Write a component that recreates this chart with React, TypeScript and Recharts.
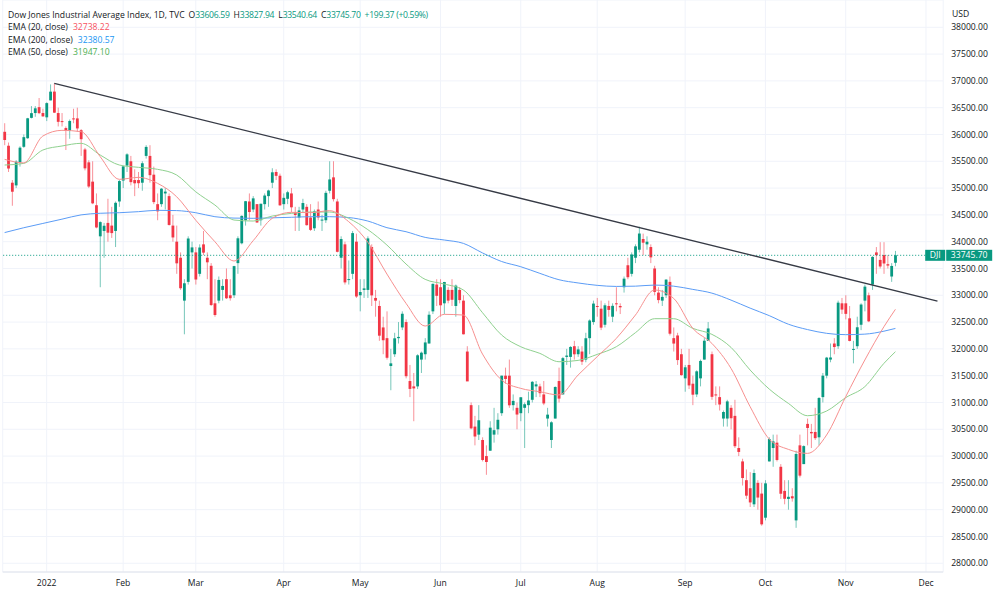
import React from 'react';
import { Bar, CartesianGrid, ComposedChart, Line, ReferenceLine, XAxis, YAxis } from 'recharts';

// date, open, high, low, close
type Candle = [string, number, number, number, number];

const dec2021: Candle[] = [
  ['2021-12-16', 36050, 36210, 35800, 35897],
  ['2021-12-17', 35790, 35850, 35300, 35365],
  ['2021-12-20', 35100, 35150, 34670, 34932],
  ['2021-12-21', 35050, 35520, 35000, 35493],
  ['2021-12-22', 35480, 35780, 35400, 35754],
  ['2021-12-23', 35770, 36000, 35750, 35950],
  ['2021-12-27', 35930, 36310, 35920, 36302],
  ['2021-12-28', 36310, 36530, 36300, 36398],
  ['2021-12-29', 36400, 36530, 36330, 36488],
  ['2021-12-30', 36510, 36680, 36380, 36398],
  ['2021-12-31', 36400, 36480, 36330, 36338],
];

const jan2022: Candle[] = [
  ['2022-01-03', 36320, 36600, 36250, 36585],
  ['2022-01-04', 36636, 36934, 36636, 36799],
  ['2022-01-05', 36800, 36952, 36400, 36407],
  ['2022-01-06', 36400, 36500, 36150, 36236],
  ['2022-01-07', 36250, 36400, 36150, 36231],
  ['2022-01-10', 36120, 36150, 35710, 36068],
  ['2022-01-11', 36070, 36280, 35920, 36252],
  ['2022-01-12', 36300, 36480, 36210, 36290],
  ['2022-01-13', 36300, 36500, 36050, 36113],
  ['2022-01-14', 36080, 36100, 35600, 35912],
  ['2022-01-18', 35720, 35750, 35330, 35368],
  ['2022-01-19', 35480, 35520, 35000, 35029],
  ['2022-01-20', 35120, 35500, 34700, 34715],
  ['2022-01-21', 34680, 34900, 34250, 34265],
  ['2022-01-24', 34100, 34380, 33150, 34365],
  ['2022-01-25', 34200, 34350, 33700, 34297],
  ['2022-01-26', 34350, 34800, 34000, 34168],
  ['2022-01-27', 34300, 34650, 34070, 34160],
  ['2022-01-28', 34200, 34750, 33900, 34725],
  ['2022-01-31', 34750, 35150, 34650, 35131],
];

const feb2022: Candle[] = [
  ['2022-02-01', 35140, 35410, 35000, 35405],
  ['2022-02-02', 35420, 35650, 35300, 35629],
  ['2022-02-03', 35500, 35600, 35050, 35111],
  ['2022-02-04', 35150, 35350, 34850, 35089],
  ['2022-02-07', 35150, 35300, 35000, 35091],
  ['2022-02-08', 35100, 35500, 34950, 35463],
  ['2022-02-09', 35600, 35800, 35550, 35768],
  ['2022-02-10', 35600, 35800, 35100, 35241],
  ['2022-02-11', 35250, 35400, 34700, 34738],
  ['2022-02-14', 34700, 34900, 34400, 34566],
  ['2022-02-15', 34700, 35000, 34650, 34989],
  ['2022-02-16', 34900, 35000, 34600, 34934],
  ['2022-02-17', 34850, 34900, 34300, 34312],
  ['2022-02-18', 34300, 34500, 34000, 34079],
  ['2022-02-22', 34000, 34300, 33400, 33596],
  ['2022-02-23', 33700, 33800, 33100, 33131],
  ['2022-02-24', 32900, 33300, 32272, 33224],
  ['2022-02-25', 33250, 34100, 33200, 34059],
  ['2022-02-28', 33800, 34000, 33500, 33893],
];

const mar2022: Candle[] = [
  ['2022-03-01', 33800, 33900, 33200, 33294],
  ['2022-03-02', 33400, 33950, 33350, 33891],
  ['2022-03-03', 33950, 34200, 33750, 33795],
  ['2022-03-04', 33700, 33800, 33300, 33615],
  ['2022-03-07', 33550, 33600, 32800, 32818],
  ['2022-03-08', 32850, 33300, 32600, 32632],
  ['2022-03-09', 32900, 33350, 32850, 33286],
  ['2022-03-10', 33100, 33300, 32900, 33174],
  ['2022-03-11', 33300, 33500, 32930, 32944],
  ['2022-03-14', 33000, 33300, 32900, 32945],
  ['2022-03-15', 33000, 33550, 32950, 33544],
  ['2022-03-16', 33600, 34100, 33400, 34063],
  ['2022-03-17', 33970, 34490, 33950, 34481],
  ['2022-03-18', 34400, 34760, 34300, 34755],
  ['2022-03-21', 34750, 34900, 34400, 34553],
  ['2022-03-22', 34600, 34850, 34550, 34808],
  ['2022-03-23', 34700, 34700, 34350, 34358],
  ['2022-03-24', 34400, 34710, 34300, 34707],
  ['2022-03-25', 34700, 34900, 34600, 34861],
  ['2022-03-28', 34850, 34970, 34650, 34955],
  ['2022-03-29', 35100, 35370, 35000, 35294],
  ['2022-03-30', 35300, 35350, 35150, 35228],
  ['2022-03-31', 35230, 35270, 34670, 34678],
];

const apr2022: Candle[] = [
  ['2022-04-01', 34700, 34900, 34600, 34818],
  ['2022-04-04', 34800, 34950, 34700, 34922],
  ['2022-04-05', 34900, 35000, 34550, 34641],
  ['2022-04-06', 34550, 34650, 34200, 34497],
  ['2022-04-07', 34450, 34650, 34200, 34583],
  ['2022-04-08', 34600, 34800, 34550, 34721],
  ['2022-04-11', 34650, 34700, 34300, 34308],
  ['2022-04-12', 34450, 34700, 34200, 34220],
  ['2022-04-13', 34250, 34600, 34200, 34565],
  ['2022-04-14', 34600, 34750, 34400, 34451],
  ['2022-04-18', 34400, 34500, 34200, 34412],
  ['2022-04-19', 34400, 34950, 34350, 34911],
  ['2022-04-20', 34950, 35500, 34900, 35161],
  ['2022-04-21', 35200, 35500, 34750, 34793],
  ['2022-04-22', 34750, 34800, 33800, 33811],
  ['2022-04-25', 33700, 34100, 33500, 34049],
  ['2022-04-26', 33950, 34000, 33200, 33240],
  ['2022-04-27', 33300, 33650, 33200, 33302],
  ['2022-04-28', 33400, 34200, 33300, 34160],
  ['2022-04-29', 34000, 34150, 32950, 32977],
];

const may2022: Candle[] = [
  ['2022-05-02', 33000, 33300, 32700, 33061],
  ['2022-05-03', 33100, 33300, 32950, 33128],
  ['2022-05-04', 33100, 34100, 32950, 34061],
  ['2022-05-05', 33900, 33950, 32800, 32998],
  ['2022-05-06', 32950, 33100, 32600, 32899],
  ['2022-05-09', 32800, 32900, 32150, 32246],
  ['2022-05-10', 32400, 32600, 31900, 32161],
  ['2022-05-11', 32200, 32700, 31800, 31834],
  ['2022-05-12', 31680, 32000, 31228, 31730],
  ['2022-05-13', 31900, 32300, 31850, 32197],
  ['2022-05-16', 32200, 32500, 32100, 32223],
  ['2022-05-17', 32400, 32700, 32350, 32655],
  ['2022-05-18', 32500, 32550, 31450, 31490],
  ['2022-05-19', 31400, 31700, 31100, 31253],
  ['2022-05-20', 31300, 31550, 30650, 31262],
  ['2022-05-23', 31300, 31900, 31250, 31880],
  ['2022-05-24', 31800, 31950, 31550, 31929],
  ['2022-05-25', 31900, 32200, 31800, 32120],
  ['2022-05-26', 32100, 32700, 32100, 32637],
  ['2022-05-27', 32700, 33220, 32650, 33213],
  ['2022-05-31', 33200, 33300, 32800, 32990],
];

const jun2022: Candle[] = [
  ['2022-06-01', 33150, 33300, 32600, 32813],
  ['2022-06-02', 32850, 33250, 32650, 33248],
  ['2022-06-03', 33100, 33150, 32850, 32900],
  ['2022-06-06', 33100, 33300, 32800, 32916],
  ['2022-06-07', 32800, 33200, 32600, 33180],
  ['2022-06-08', 33100, 33150, 32850, 32910],
  ['2022-06-09', 32900, 33000, 32270, 32272],
  ['2022-06-10', 31950, 32050, 31400, 31393],
  ['2022-06-13', 30950, 31000, 30500, 30517],
  ['2022-06-14', 30550, 30750, 30200, 30365],
  ['2022-06-15', 30400, 30950, 30300, 30668],
  ['2022-06-16', 30300, 30350, 29900, 29927],
  ['2022-06-17', 30000, 30200, 29650, 29889],
  ['2022-06-21', 30100, 30650, 30100, 30530],
  ['2022-06-22', 30400, 30900, 30250, 30483],
  ['2022-06-23', 30500, 30800, 30400, 30677],
  ['2022-06-24', 30800, 31500, 30750, 31500],
  ['2022-06-27', 31500, 31650, 31350, 31438],
  ['2022-06-28', 31500, 31800, 30900, 30947],
  ['2022-06-29', 30950, 31150, 30850, 31029],
  ['2022-06-30', 30900, 31000, 30500, 30775],
];

const jul2022: Candle[] = [
  ['2022-07-01', 30800, 31100, 30650, 31097],
  ['2022-07-05', 30900, 31000, 30150, 30967],
  ['2022-07-06', 30950, 31200, 30800, 31037],
  ['2022-07-07', 31050, 31400, 31000, 31385],
  ['2022-07-08', 31300, 31400, 31100, 31338],
  ['2022-07-11', 31300, 31350, 31100, 31173],
  ['2022-07-12', 31150, 31400, 30950, 30982],
  ['2022-07-13', 30700, 30900, 30550, 30773],
  ['2022-07-14', 30300, 30650, 30150, 30630],
  ['2022-07-15', 30700, 31300, 30700, 31289],
  ['2022-07-18', 31400, 31650, 31000, 31072],
  ['2022-07-19', 31150, 31850, 31150, 31827],
  ['2022-07-20', 31850, 32000, 31700, 31875],
  ['2022-07-21', 31850, 32050, 31650, 32036],
  ['2022-07-22', 32050, 32150, 31800, 31899],
  ['2022-07-25', 31900, 32050, 31850, 31990],
  ['2022-07-26', 31950, 32050, 31700, 31762],
  ['2022-07-27', 31800, 32300, 31750, 32198],
  ['2022-07-28', 32200, 32550, 31900, 32529],
  ['2022-07-29', 32500, 32900, 32450, 32845],
];

const aug2022: Candle[] = [
  ['2022-08-01', 32800, 32950, 32600, 32798],
  ['2022-08-02', 32750, 32900, 32350, 32396],
  ['2022-08-03', 32450, 32850, 32400, 32813],
  ['2022-08-04', 32800, 32900, 32600, 32727],
  ['2022-08-05', 32600, 32850, 32500, 32803],
  ['2022-08-08', 32850, 33150, 32700, 32833],
  ['2022-08-09', 32800, 32850, 32650, 32775],
  ['2022-08-10', 33150, 33350, 33050, 33310],
  ['2022-08-11', 33560, 33700, 33300, 33337],
  ['2022-08-12', 33400, 33800, 33350, 33761],
  ['2022-08-15', 33700, 33950, 33600, 33913],
  ['2022-08-16', 33850, 34281, 33800, 34152],
  ['2022-08-17', 34050, 34150, 33750, 33981],
  ['2022-08-18', 33950, 34100, 33850, 33999],
  ['2022-08-19', 33900, 33950, 33600, 33707],
  ['2022-08-22', 33500, 33550, 33000, 33064],
  ['2022-08-23', 33050, 33150, 32850, 32910],
  ['2022-08-24', 32900, 33100, 32800, 32970],
  ['2022-08-25', 33000, 33300, 32950, 33292],
  ['2022-08-26', 33250, 33350, 32250, 32283],
  ['2022-08-29', 32200, 32400, 31950, 32099],
  ['2022-08-30', 32250, 32300, 31700, 31791],
  ['2022-08-31', 31900, 32000, 31500, 31510],
];

const sep2022: Candle[] = [
  ['2022-09-01', 31450, 31700, 31200, 31656],
  ['2022-09-02', 31700, 32000, 31250, 31318],
  ['2022-09-06', 31350, 31500, 30950, 31145],
  ['2022-09-07', 31150, 31600, 31100, 31581],
  ['2022-09-08', 31450, 31800, 31300, 31775],
  ['2022-09-09', 31800, 32200, 31800, 32152],
  ['2022-09-12', 32150, 32500, 32150, 32381],
  ['2022-09-13', 31900, 31950, 31050, 31105],
  ['2022-09-14', 31150, 31300, 30950, 31135],
  ['2022-09-15', 31100, 31300, 30850, 30962],
  ['2022-09-16', 30700, 30850, 30550, 30822],
  ['2022-09-19', 30700, 31050, 30550, 31020],
  ['2022-09-20', 30900, 30950, 30500, 30706],
  ['2022-09-21', 30750, 31050, 30150, 30184],
  ['2022-09-22', 30150, 30350, 30000, 30077],
  ['2022-09-23', 29900, 29950, 29450, 29590],
  ['2022-09-26', 29550, 29750, 29200, 29261],
  ['2022-09-27', 29400, 29700, 29050, 29135],
  ['2022-09-28', 29100, 29750, 29050, 29684],
  ['2022-09-29', 29500, 29550, 29000, 29226],
  ['2022-09-30', 29300, 29500, 28700, 28726],
];

const oct2022: Candle[] = [
  ['2022-10-03', 28850, 29550, 28800, 29491],
  ['2022-10-04', 29900, 30350, 29900, 30317],
  ['2022-10-05', 30150, 30400, 29800, 30274],
  ['2022-10-06', 30250, 30400, 29900, 29927],
  ['2022-10-07', 29800, 29850, 29200, 29297],
  ['2022-10-10', 29350, 29550, 29100, 29203],
  ['2022-10-11', 29200, 29550, 29000, 29240],
  ['2022-10-12', 29250, 29400, 29150, 29211],
  ['2022-10-13', 28800, 30100, 28661, 30039],
  ['2022-10-14', 30200, 30400, 29600, 29635],
  ['2022-10-17', 29850, 30200, 29850, 30186],
  ['2022-10-18', 30600, 30700, 30200, 30524],
  ['2022-10-19', 30450, 30600, 30150, 30424],
  ['2022-10-20', 30450, 30900, 30300, 30334],
  ['2022-10-21', 30350, 31100, 30200, 31083],
  ['2022-10-24', 31100, 31550, 31000, 31500],
  ['2022-10-25', 31500, 31850, 31450, 31837],
  ['2022-10-26', 31800, 32100, 31750, 31839],
  ['2022-10-27', 32100, 32200, 31900, 32034],
  ['2022-10-28', 32050, 32900, 32000, 32862],
  ['2022-10-31', 32850, 32950, 32650, 32733],
];

const nov2022: Candle[] = [
  ['2022-11-01', 32850, 33000, 32550, 32653],
  ['2022-11-02', 32570, 32800, 32140, 32148],
  ['2022-11-03', 31990, 32150, 31730, 31999],
  ['2022-11-04', 32050, 32600, 32000, 32403],
  ['2022-11-07', 32450, 32850, 32350, 32827],
  ['2022-11-08', 32900, 33200, 32700, 33161],
  ['2022-11-09', 33000, 33050, 32500, 32514],
  ['2022-11-10', 33200, 33730, 33100, 33716],
  ['2022-11-11', 33800, 33900, 33400, 33748],
  ['2022-11-14', 33660, 33990, 33500, 33537],
  ['2022-11-15', 33750, 33990, 33400, 33593],
  ['2022-11-16', 33580, 33750, 33500, 33554],
  ['2022-11-17', 33350, 33600, 33250, 33547],
  ['2022-11-18', 33606.59, 33827.94, 33540.64, 33745.7],
];

// empty sessions to the right of the last candle
const futureDates = [
  '2022-11-21', '2022-11-22', '2022-11-23', '2022-11-25', '2022-11-28', '2022-11-29',
  '2022-11-30', '2022-12-01', '2022-12-02', '2022-12-05', '2022-12-06', '2022-12-07',
];

// EMA readings, sampled at these candle indexes
const emaIdx = [0, 5, 10, 15, 20, 25, 30, 35, 40, 45, 50, 55, 60, 65, 70, 75, 80, 85, 90, 95, 100, 105, 110, 115,
  120, 125, 130, 135, 140, 145, 150, 155, 160, 165, 170, 175, 180, 185, 190, 195, 200, 205, 210, 215, 220, 225, 230, 233];
const ema20 = [35536, 35470, 35971, 36077, 36052, 35586, 35163, 35200, 35088, 34839, 34400, 34000, 33639, 34018, 34435,
  34547, 34541, 34578, 34373, 33990, 33396, 32849, 32426, 32644, 32631, 31903, 31418, 31263, 31200, 31140, 31512, 31854,
  32196, 32631, 33098, 32942, 32383, 32102, 31636, 30921, 30317, 30125, 30050, 30393, 31108, 31792, 32414, 32738];
const ema50 = [35430, 35461, 35710, 35785, 35835, 35617, 35430, 35387, 35350, 35244, 34930, 34684, 34404, 34385, 34478,
  34528, 34553, 34553, 34435, 34225, 33937, 33583, 33297, 33210, 33098, 32675, 32258, 32040, 31916, 31760, 31785, 31897,
  32040, 32302, 32563, 32563, 32383, 32271, 32028, 31605, 31250, 30983, 30753, 30840, 31090, 31295, 31730, 31947];
const ema200 = [34170, 34260, 34340, 34420, 34500, 34530, 34540, 34560, 34585, 34580, 34540, 34466, 34440, 34436, 34445,
  34455, 34466, 34466, 34450, 34385, 34261, 34186, 34080, 34031, 33968, 33790, 33630, 33533, 33409, 33290, 33230, 33185,
  33165, 33170, 33190, 33170, 33110, 33040, 32910, 32760, 32620, 32460, 32360, 32290, 32265, 32275, 32330, 32381];

const trendDates = ['2022-01-05', '2022-12-06'];
const trendValues = [36952, 32893];

const monthTicks = ['2022-01-03', '2022-02-01', '2022-03-01', '2022-04-01', '2022-05-02', '2022-06-01',
  '2022-07-01', '2022-08-01', '2022-09-01', '2022-10-03', '2022-11-01', '2022-12-01'];
const monthLabels = ['2022', 'Feb', 'Mar', 'Apr', 'May', 'Jun', 'Jul', 'Aug', 'Sep', 'Oct', 'Nov', 'Dec'];

const priceTicks = [28000, 28500, 29000, 29500, 30000, 30500, 31000, 31500, 32000, 32500, 33000,
  33500, 34000, 34500, 35000, 35500, 36000, 36500, 37000, 37500, 38000];

const lastClose = 33745.7;

const UP = '#089981';
const DOWN = '#f23645';
const FONT = '"Open Sans", "Liberation Sans", sans-serif';
const TEXT = '#131722';

const candles = [...dec2021, ...jan2022, ...feb2022, ...mar2022, ...apr2022, ...may2022,
  ...jun2022, ...jul2022, ...aug2022, ...sep2022, ...oct2022, ...nov2022];

const rows: any[] = [
  ...candles.map(([date, open, high, low, close]) => ({ date, open, high, low, close, range: [low, high] })),
  ...futureDates.map(date => ({ date })),
];
emaIdx.forEach((idx, k) => {
  rows[idx].ema20 = ema20[k];
  rows[idx].ema50 = ema50[k];
  rows[idx].ema200 = ema200[k];
});
trendDates.forEach((d, k) => {
  const row = rows.find(r => r.date === d);
  if (row) row.trend = trendValues[k];
});

const CandleShape = (props: any) => {
  const { x, y, width, height, payload } = props;
  if (!payload || payload.open == null || !height) return null;
  const { open, close, high, low } = payload;
  const top = Math.min(y, y + height);
  const h = Math.abs(height);
  const py = (v: number) => top + ((high - v) / (high - low)) * h;
  const color = close >= open ? UP : DOWN;
  const cx = x + width / 2;
  const bw = 2.8;
  const bTop = py(Math.max(open, close));
  const bBot = py(Math.min(open, close));
  return (
    <g>
      <line x1={cx} x2={cx} y1={top} y2={top + h} stroke={color} strokeOpacity={0.55} strokeWidth={1} />
      <rect x={cx - bw / 2} y={bTop} width={bw} height={Math.max(1, bBot - bTop)} fill={color} />
    </g>
  );
};

const PriceTag = (props: any) => {
  const { viewBox } = props;
  if (!viewBox) return null;
  const right = viewBox.x + viewBox.width;
  const y = viewBox.y;
  return (
    <g fontFamily={FONT} fontSize={8.6}>
      <rect x={right - 18} y={y - 5.5} width={20} height={11} fill={UP} />
      <text x={right - 8} y={y + 3} textAnchor="middle" fill="#fff">DJI</text>
      <rect x={right + 3} y={y - 5.5} width={46} height={11} fill={UP} />
      <text x={right + 26} y={y + 3} textAnchor="middle" fill="#fff">33745.70</text>
    </g>
  );
};

const num = { color: UP, letterSpacing: '-0.3px' };

const Legend = () => (
  <div style={{ position: 'absolute', left: 8, top: 9, fontSize: 8.6, lineHeight: '12.3px', color: TEXT, fontFamily: FONT, whiteSpace: 'nowrap' }}>
    <div>
      Dow Jones Industrial Average Index, 1D, TVC
      <span style={{ marginLeft: 4 }}>O<span style={num}>33606.59</span></span>
      <span style={{ marginLeft: 4 }}>H<span style={num}>33827.94</span></span>
      <span style={{ marginLeft: 4 }}>L<span style={num}>33540.64</span></span>
      <span style={{ marginLeft: 4 }}>C<span style={num}>33745.70</span></span>
      <span style={{ ...num, marginLeft: 4 }}>+199.37 (+0.59%)</span>
    </div>
    <div>EMA (20, close)<span style={{ marginLeft: 5, color: '#f7525f' }}>32738.22</span></div>
    <div>EMA (200, close)<span style={{ marginLeft: 5, color: '#2196f3' }}>32380.57</span></div>
    <div>EMA (50, close)<span style={{ marginLeft: 5, color: '#4caf50' }}>31947.10</span></div>
  </div>
);

export default function App() {
  return (
    <div style={{ position: 'absolute', left: 0, top: 0, width: 1000, height: 597, background: '#fff' }}>
      <ComposedChart
        width={1000}
        height={597}
        data={rows}
        margin={{ top: 0, right: 2.8, bottom: 0, left: 2.7 }}
        barCategoryGap={0}
      >
        <CartesianGrid stroke="#f0f3fa" />
        <XAxis
          dataKey="date"
          ticks={monthTicks}
          interval={0}
          height={25}
          axisLine={{ stroke: '#e0e3eb' }}
          tickLine={false}
          tick={{ fontSize: 8.6, fill: TEXT, fontFamily: FONT }}
          tickFormatter={(d: string) => monthLabels[monthTicks.indexOf(d)] ?? ''}
        />
        <YAxis
          orientation="right"
          domain={[27837, 38509]}
          allowDataOverflow
          ticks={priceTicks}
          interval={0}
          width={54}
          axisLine={false}
          tickLine={false}
          tick={{ fontSize: 8.6, fill: TEXT, fontFamily: FONT }}
          tickFormatter={(v: number) => v.toFixed(2)}
        />
        <Line dataKey="ema200" type="monotone" stroke="#5b9cf6" strokeWidth={1} dot={false} connectNulls isAnimationActive={false} />
        <Line dataKey="ema50" type="monotone" stroke="#8fd18f" strokeWidth={1} dot={false} connectNulls isAnimationActive={false} />
        <Line dataKey="ema20" type="monotone" stroke="#f7908f" strokeWidth={1} dot={false} connectNulls isAnimationActive={false} />
        <ReferenceLine y={lastClose} stroke={UP} strokeDasharray="1 2" label={<PriceTag />} />
        <Bar dataKey="range" shape={<CandleShape />} isAnimationActive={false} />
        <Line dataKey="trend" type="linear" stroke="#363a45" strokeWidth={1.3} dot={false} connectNulls isAnimationActive={false} />
      </ComposedChart>
      <Legend />
      <div style={{ position: 'absolute', left: 952, top: 8, fontSize: 8.6, color: TEXT, fontFamily: FONT }}>USD</div>
    </div>
  );
}
